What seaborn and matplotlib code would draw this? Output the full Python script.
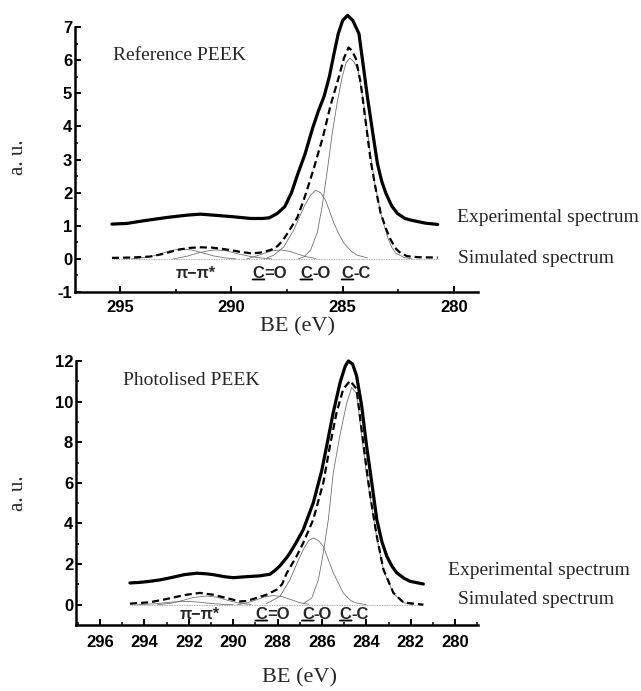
import numpy as np
import pandas as pd
import matplotlib
matplotlib.use("Agg")
import matplotlib.pyplot as plt
from matplotlib.ticker import MultipleLocator
import seaborn as sns

# ---------------- data: Reference PEEK (top) ----------------
ref_exp_x = [295.37, 294.7, 293.95, 292.9, 292.0, 291.4, 290.8, 289.9, 289.14, 288.6, 288.3,
             287.94, 287.6, 287.3, 287.0, 286.7, 286.35, 286.1, 285.84, 285.6, 285.39, 285.2,
             285.0, 284.78, 284.55, 284.27, 284.05, 283.89, 283.66, 283.44, 283.25, 283.06,
             282.8, 282.54, 282.2, 281.94, 281.3, 280.73]
ref_exp_y = [1.05, 1.07, 1.15, 1.25, 1.32, 1.35, 1.32, 1.27, 1.22, 1.22, 1.24,
             1.37, 1.58, 2.0, 2.6, 3.15, 3.95, 4.45, 4.9, 5.5, 6.2, 6.8,
             7.2, 7.35, 7.2, 6.8, 5.7, 4.89, 3.85, 2.88, 2.35, 1.98,
             1.6, 1.37, 1.22, 1.17, 1.08, 1.04]

ref_sim_x = [295.37, 294.5, 293.65, 293.0, 292.45, 291.9, 291.4, 290.9, 290.5, 290.0, 289.6,
             289.14, 288.8, 288.55, 288.2, 287.94, 287.7, 287.5, 287.04, 286.74, 286.5, 286.29,
             286.1, 285.9, 285.54, 285.17, 284.95, 284.74, 284.6, 284.41, 284.19, 283.96,
             283.74, 283.5, 283.29, 283.05, 282.84, 282.6, 282.39, 282.1, 281.6, 280.73]
ref_sim_y = [0.03, 0.04, 0.07, 0.16, 0.27, 0.33, 0.35, 0.34, 0.31, 0.26, 0.21,
             0.17, 0.18, 0.21, 0.28, 0.38, 0.55, 0.75, 1.25, 1.8, 2.3, 2.75,
             3.2, 3.65, 4.65, 5.5, 6.05, 6.38, 6.3, 6.05, 5.3, 4.1,
             2.95, 2.05, 1.37, 0.9, 0.57, 0.3, 0.17, 0.08, 0.05, 0.04]

ref_cc_x = [287.0, 286.74, 286.44, 286.14, 285.92, 285.69, 285.47, 285.24, 285.02, 284.85,
            284.68, 284.5, 284.31, 284.04, 283.8, 283.59, 283.29, 282.99, 282.8, 282.61,
            282.24, 281.9]
ref_cc_y = [0.0, 0.06, 0.27, 0.8, 1.6, 2.68, 3.8, 4.75, 5.5, 5.92,
            6.06, 5.95, 5.7, 4.6, 3.4, 2.4, 1.37, 0.67, 0.35, 0.17,
            0.04, 0.0]

ref_co_x = [288.4, 288.1, 287.65, 287.2, 286.74, 286.45, 286.22, 286.0, 285.77, 285.39,
            285.15, 284.94, 284.6, 284.34, 283.89]
ref_co_y = [0.03, 0.11, 0.36, 0.87, 1.57, 1.92, 2.07, 2.0, 1.77, 1.07,
            0.72, 0.47, 0.22, 0.11, 0.03]

ref_cdo_x = [289.3, 289.0, 288.6, 288.2, 287.8, 287.4, 287.0, 286.6, 286.2]
ref_cdo_y = [0.0, 0.06, 0.15, 0.24, 0.27, 0.23, 0.14, 0.06, 0.01]

ref_pi1_x = [294.5, 293.8, 293.3, 292.8, 292.3, 291.8, 291.3, 290.8, 290.3, 289.8]
ref_pi1_y = [0.0, 0.05, 0.12, 0.24, 0.30, 0.27, 0.18, 0.09, 0.03, 0.0]

ref_pi2_x = [292.6, 292.0, 291.5, 291.0, 290.65, 290.2, 289.7, 289.2, 288.7, 288.2]
ref_pi2_y = [0.0, 0.08, 0.18, 0.25, 0.27, 0.24, 0.15, 0.08, 0.03, 0.0]

ref_base_x = [295.37, 280.73]
ref_base_y = [0.0, 0.0]

# ---------------- data: Photolised PEEK (bottom) ----------------
pho_exp_x = [294.65, 294.2, 293.75, 293.3, 292.85, 292.2, 291.64, 291.2, 290.9, 290.4, 290.0,
             289.39, 288.8, 288.34, 288.1, 287.89, 287.6, 287.44, 287.14, 286.84, 286.39,
             286.01, 285.79, 285.49, 285.18, 284.95, 284.81, 284.62, 284.44, 284.21, 283.99,
             283.83, 283.53, 283.3, 283.08, 282.85, 282.63, 282.3, 282.03, 281.43]
pho_exp_y = [1.07, 1.1, 1.15, 1.22, 1.32, 1.48, 1.55, 1.52, 1.48, 1.38, 1.33,
             1.38, 1.42, 1.5, 1.7, 1.92, 2.3, 2.55, 3.1, 3.7, 5.02,
             6.6, 7.8, 9.47, 10.95, 11.75, 12.0, 11.85, 11.27, 9.79, 7.82,
             6.6, 4.2, 3.1, 2.39, 1.9, 1.57, 1.3, 1.15, 1.02]

pho_sim_x = [294.65, 293.75, 293.0, 292.5, 292.1, 291.5, 290.9, 290.3, 289.7, 289.4, 289.1,
             288.5, 288.04, 287.8, 287.59, 287.14, 286.84, 286.39, 285.94, 285.64, 285.34,
             285.04, 284.73, 284.44, 284.21, 283.99, 283.83, 283.53, 283.23, 282.78, 282.33,
             281.43]
pho_sim_y = [0.05, 0.12, 0.28, 0.4, 0.49, 0.58, 0.49, 0.33, 0.16, 0.18, 0.28,
             0.49, 0.74, 1.0, 1.55, 2.39, 3.05, 4.2, 6.0, 7.82, 9.47,
             10.62, 11.03, 10.62, 8.6, 6.7, 5.4, 3.37, 1.73, 0.58, 0.11,
             0.0]

pho_cc_x = [286.84, 286.46, 286.16, 285.94, 285.71, 285.49, 285.18, 284.89, 284.66, 284.44,
            284.21, 283.99, 283.83, 283.53, 283.23, 282.78, 282.33, 281.9]
pho_cc_y = [0.05, 0.33, 1.23, 2.55, 4.2, 6.5, 8.4, 9.9, 10.7, 10.4,
            8.3, 6.4, 5.3, 3.3, 1.7, 0.55, 0.1, 0.0]

pho_co_x = [288.5, 287.89, 287.44, 287.1, 286.84, 286.6, 286.39, 286.15, 285.94, 285.49,
            285.04, 284.7, 284.44, 284.0]
pho_co_y = [0.05, 0.41, 1.23, 2.1, 2.72, 3.15, 3.29, 3.15, 2.88, 1.57,
            0.58, 0.2, 0.08, 0.0]

pho_cdo_x = [289.8, 289.4, 289.0, 288.6, 288.2, 287.8, 287.4, 287.0, 286.6]
pho_cdo_y = [0.0, 0.08, 0.22, 0.38, 0.45, 0.4, 0.25, 0.1, 0.02]

pho_pi1_x = [293.4, 292.8, 292.3, 291.8, 291.2, 290.7, 290.2, 289.7, 289.2]
pho_pi1_y = [0.0, 0.07, 0.2, 0.35, 0.43, 0.36, 0.2, 0.07, 0.01]

pho_pi2_x = [294.3, 293.6, 293.0, 292.4, 292.0, 291.5, 291.0, 290.5, 290.0]
pho_pi2_y = [0.0, 0.04, 0.1, 0.16, 0.16, 0.12, 0.06, 0.02, 0.0]

pho_base_x = [294.65, 281.43]
pho_base_y = [0.0, 0.0]

# ---------------- text ----------------
panel_titles = ["Reference PEEK", "Photolised PEEK"]
legend_exp = "Experimental spectrum"
legend_sim = "Simulated spectrum"
xlabel = "BE (eV)"
ylabel = "a. u."
peak_names = ["π−π*", "=O", "-O", "-C"]

# ---------------- style ----------------
sns.set_theme(style="ticks")
plt.rcParams["font.family"] = ["Liberation Sans", "DejaVu Sans"]
plt.rcParams["axes.unicode_minus"] = False
SERIF = ["Liberation Serif", "DejaVu Serif"]

fig = plt.figure(figsize=(6.41, 6.91), dpi=100)
ax1 = fig.add_axes([75 / 641, 1 - 292 / 691, 403 / 641, 265 / 691])
ax2 = fig.add_axes([76 / 641, 1 - 625 / 691, 402 / 641, 264 / 691])


def curve(ax, xs, ys, **kw):
    df = pd.DataFrame({"x": xs, "y": ys})
    sns.lineplot(data=df, x="x", y="y", ax=ax, estimator=None, sort=False,
                 clip_on=False, **kw)


def draw_panel(ax, exp, sim, comps, base):
    curve(ax, base[0], base[1], color="0.55", lw=0.6, linestyle=(0, (1, 1)))
    for (cx, cy) in comps:
        curve(ax, cx, cy, color="0.45", lw=0.6)
    curve(ax, sim[0], sim[1], color="black", lw=1.6, linestyle=(0, (3.2, 1.8)))
    curve(ax, exp[0], exp[1], color="black", lw=2.3)


def bond_label(ax, x, y, rest, size=12):
    t = ax.text(x, y, "C", fontsize=size, fontweight="bold", ha="left", va="center")
    ax.annotate(rest, xy=(1, 0), xycoords=t, ha="left", va="bottom",
                fontsize=size, fontweight="bold")
    ax.annotate("", xy=(0.0, 0.12), xycoords=t, xytext=(1.0, 0.12), textcoords=t,
                arrowprops=dict(arrowstyle="-", lw=1.3, color="black",
                                shrinkA=0, shrinkB=0))


def style_axes(ax, xlim, ylim, xmaj, xmin, ymaj, ymin, xpad):
    ax.set_xlim(*xlim)
    ax.set_ylim(*ylim)
    ax.xaxis.set_major_locator(MultipleLocator(xmaj))
    ax.xaxis.set_minor_locator(MultipleLocator(xmin))
    ax.yaxis.set_major_locator(MultipleLocator(ymaj))
    ax.yaxis.set_minor_locator(MultipleLocator(ymin))
    sns.despine(ax=ax)
    for s in ("left", "bottom"):
        ax.spines[s].set_linewidth(1.8)
        ax.spines[s].set_color("black")
    ax.tick_params(which="major", direction="in", length=4, width=1.4, color="black")
    ax.tick_params(which="minor", direction="in", length=2.5, width=1.1, color="black")
    ax.tick_params(axis="x", which="both", pad=xpad)
    ax.tick_params(axis="y", which="both", pad=2)
    for lab in ax.get_xticklabels() + ax.get_yticklabels():
        lab.set_fontweight("bold")
        lab.set_fontsize(12)
        lab.set_color("black")
    ax.set_facecolor("white")


# ---- top panel ----
draw_panel(ax1, (ref_exp_x, ref_exp_y), (ref_sim_x, ref_sim_y),
           [(ref_cc_x, ref_cc_y), (ref_co_x, ref_co_y), (ref_cdo_x, ref_cdo_y),
            (ref_pi1_x, ref_pi1_y), (ref_pi2_x, ref_pi2_y)],
           (ref_base_x, ref_base_y))
style_axes(ax1, (297.03, 278.92), (-1, 7), 5, 2.5, 1, 0.5, 6)
ax1.set_xlabel(xlabel, fontsize=16, family=SERIF)
ax1.xaxis.set_label_coords(0.551, -0.132)
ax1.xaxis.label.set_va("center")
ax1.set_ylabel(ylabel, fontsize=15, family=SERIF)
ax1.yaxis.set_label_coords(-0.141, 0.51)
ax1.yaxis.label.set_va("center")
ax1.text(0.094, 0.894, panel_titles[0], transform=ax1.transAxes, fontsize=14,
         family=SERIF, ha="left", va="center")
ax1.text(0.948, 0.283, legend_exp, transform=ax1.transAxes, fontsize=14,
         family=SERIF, ha="left", va="center", clip_on=False)
ax1.text(0.950, 0.128, legend_sim, transform=ax1.transAxes, fontsize=14,
         family=SERIF, ha="left", va="center", clip_on=False)
ax1.text(291.6, -0.45, peak_names[0], fontsize=11.5, fontweight="bold",
         ha="center", va="center")
bond_label(ax1, 289.05, -0.45, peak_names[1])
bond_label(ax1, 286.9, -0.45, peak_names[2])
bond_label(ax1, 285.05, -0.45, peak_names[3])

# ---- bottom panel ----
draw_panel(ax2, (pho_exp_x, pho_exp_y), (pho_sim_x, pho_sim_y),
           [(pho_cc_x, pho_cc_y), (pho_co_x, pho_co_y), (pho_cdo_x, pho_cdo_y),
            (pho_pi1_x, pho_pi1_y), (pho_pi2_x, pho_pi2_y)],
           (pho_base_x, pho_base_y))
style_axes(ax2, (297.08, 278.97), (-1, 12), 2, 1, 2, 1, 7)
ax2.set_xlabel(xlabel, fontsize=16, family=SERIF)
ax2.xaxis.set_label_coords(0.557, -0.20)
ax2.xaxis.label.set_va("center")
ax2.set_ylabel(ylabel, fontsize=15, family=SERIF)
ax2.yaxis.set_label_coords(-0.144, 0.50)
ax2.yaxis.label.set_va("center")
ax2.text(0.117, 0.928, panel_titles[1], transform=ax2.transAxes, fontsize=14,
         family=SERIF, ha="left", va="center")
ax2.text(0.925, 0.208, legend_exp, transform=ax2.transAxes, fontsize=14,
         family=SERIF, ha="left", va="center", clip_on=False)
ax2.text(0.950, 0.095, legend_sim, transform=ax2.transAxes, fontsize=14,
         family=SERIF, ha="left", va="center", clip_on=False)
ax2.text(291.5, -0.5, peak_names[0], fontsize=11.5, fontweight="bold",
         ha="center", va="center")
bond_label(ax2, 289.0, -0.5, peak_names[1])
bond_label(ax2, 286.9, -0.5, peak_names[2])
bond_label(ax2, 285.2, -0.5, peak_names[3])

fig.savefig("out.png", dpi=100, facecolor="white")
